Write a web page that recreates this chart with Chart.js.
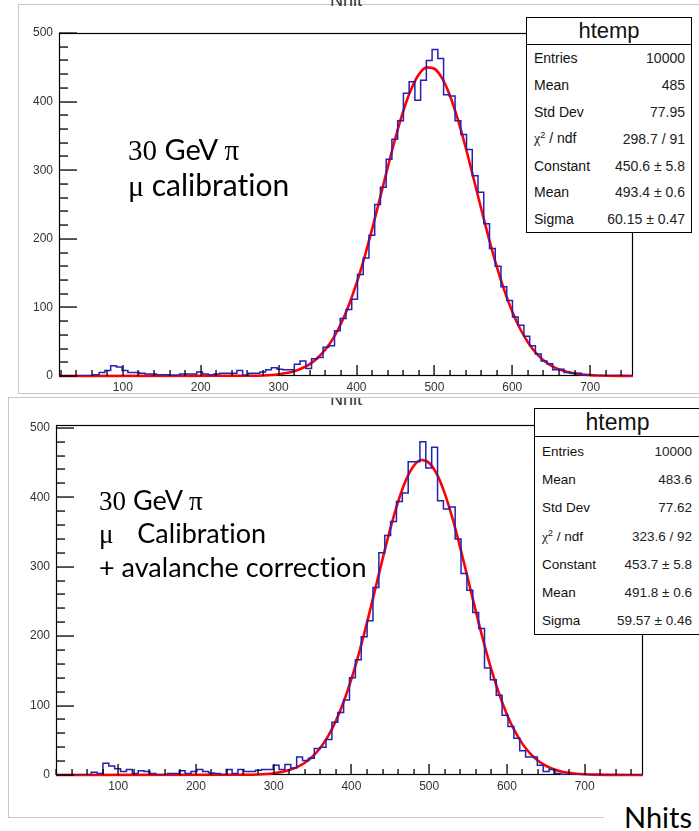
<!DOCTYPE html>
<html>
<head>
<meta charset="utf-8">
<script src="https://cdn.jsdelivr.net/npm/chart.js@4.4.0/dist/chart.umd.min.js"></script>
<style>
  body { margin:0; width:699px; height:831px; position:relative; overflow:hidden; background:#fff;
         font-family:'Liberation Sans', Arial, sans-serif; }
  .panel { position:absolute; border:1px solid #c8c8c8; background:#fff; overflow:hidden; box-sizing:border-box; }
  canvas { position:absolute; left:0; }
  .note { position:absolute; font-family:Lato, sans-serif; color:#000; white-space:pre; line-height:1;
          font-variant-ligatures:none; font-feature-settings:"liga" 0; }
  .sym { font-family:'Liberation Serif', 'DejaVu Serif', serif; }
  .title { position:absolute; font-size:18px; line-height:1; color:#333; }
  .stats { position:absolute; border:1px solid #000; background:#fff; box-sizing:border-box; color:#111; }
  .stats .head { text-align:center; border-bottom:1px solid #000; box-sizing:border-box; }
  .stats .row { display:flex; justify-content:space-between; align-items:center; white-space:nowrap; }
  .stats .row span:last-child { color:#222; }
  .stats sup { font-size:65%; vertical-align:5px; }
  .stats .chi { font-family:'Liberation Serif', serif; }
</style>
</head>
<body>
<div class="panel" style="left:18px;top:4px;width:720px;height:390px"></div>
<div class="title" style="left:330px;top:-9px">Nhit</div>
<canvas id="topChart" width="699" height="396" style="top:0"></canvas>
<div class="note" style="left:128px;top:134px;font-size:29px"><span class="sym">30</span> GeV <span class="sym">π</span></div>
<div class="note" style="left:128px;top:169px;font-size:30px"><span class="sym">μ</span> calibration</div>
<div class="stats" id="statsTop" style="left:526px;top:17px;width:166px;height:216px"></div>

<div class="panel" id="p2" style="left:8px;top:397px;width:720px;height:421px">
  <div class="title" style="left:321px;top:-8px">Nhit</div>
</div>
<canvas id="botChart" width="699" height="400" style="top:397px"></canvas>
<div class="note" style="left:99px;top:486px;font-size:27px"><span class="sym">30</span> GeV <span class="sym">π</span></div>
<div class="note" style="left:99px;top:519px;font-size:27px"><span class="sym">μ</span><span style="margin-left:10px"> </span> Calibration</div>
<div class="note" style="left:99px;top:553px;font-size:27px">+ avalanche correction</div>
<div class="stats" id="statsBot" style="left:534px;top:408px;width:167px;height:227px"></div>

<div style="position:absolute;left:604px;top:800px;width:95px;height:31px;background:#fff"></div>
<div class="note" style="left:624px;top:802px;font-size:29px">Nhits</div>

<script>
// histogram contents, 100 bins each
const countsTop = [
  0, 0, 0, 0, 0, 0, 2, 5, 8, 15,
  13, 8, 5, 5, 4, 3, 3, 2, 2, 1,
  1, 3, 3, 3, 6, 3, 2, 3, 4, 4,
  4, 8, 1, 4, 4, 6, 9, 12, 10, 9,
  9, 17, 22, 11, 25, 27, 42, 44, 66, 84,
  97, 112, 148, 172, 205, 250, 275, 316, 345, 372,
  412, 429, 402, 431, 460, 476, 463, 410, 408, 372,
  352, 330, 292, 268, 222, 186, 160, 130, 110, 86,
  74, 58, 44, 32, 22, 18, 9, 10, 5, 4,
  4, 1, 0, 0, 0, 0, 0, 0, 0, 0
];
const countsBot = [
  0, 0, 0, 0, 0, 0, 4, 2, 17, 13,
  9, 5, 8, 2, 6, 5, 2, 0, 0, 2,
  2, 6, 2, 5, 8, 5, 3, 2, 0, 8,
  2, 8, 5, 5, 7, 8, 8, 14, 8, 15,
  10, 26, 21, 24, 38, 40, 51, 76, 90, 108,
  140, 166, 199, 222, 270, 320, 345, 365, 394, 406,
  451, 451, 480, 442, 472, 395, 383, 386, 340, 290,
  266, 234, 211, 154, 137, 115, 86, 70, 53, 35,
  26, 26, 14, 5, 8, 2, 1, 0, 0, 0,
  0, 0, 0, 0, 0, 0, 0, 0, 0, 0
];
const rangeTop = [18, 755];
const rangeBot = [20, 775];

// gaussian fit curves, sampled from the red lines
const fitX = [270, 280, 290, 300, 310, 320, 330, 340, 350, 360, 370, 380, 390, 400, 410,
  420, 430, 440, 450, 460, 470, 480, 490, 500, 510, 520, 530, 540, 550, 560,
  570, 580, 590, 600, 610, 620, 630, 640, 650, 660, 670, 680, 690, 700, 710];
const fitTop = [0.46, 0.83, 1.48, 2.57, 4.31, 7.07, 11.25, 17.43, 26.28, 38.54, 54.94, 76.21, 102.8, 134.9, 172.3,
  214.0, 258.5, 303.8, 347.3, 386.2, 417.7, 439.6, 449.9, 447.9, 433.8, 408.6, 374.4, 333.8, 289.4, 244.1,
  200.3, 159.8, 124.1, 93.7, 68.9, 49.2, 34.2, 23.1, 15.2, 9.7, 6.05, 3.66, 2.16, 1.23, 0.69];
const fitBot = [0.44, 0.82, 1.46, 2.54, 4.31, 7.09, 11.35, 17.65, 26.7, 39.25, 56.1, 77.96, 105.4, 138.4, 176.7,
  219.4, 264.9, 310.9, 354.7, 393.4, 424.3, 444.9, 453.5, 449.4, 433.0, 405.6, 369.4, 327.1, 281.5, 235.6,
  191.7, 151.6, 116.6, 87.2, 63.4, 44.8, 30.8, 20.5, 13.3, 8.4, 5.17, 3.09, 1.79, 1.01, 0.55];

const xTickVals = [100, 200, 300, 400, 500, 600, 700];
const yTickVals = [0, 100, 200, 300, 400, 500];
const minorStep = 20;

const statLabels = ['Entries', 'Mean', 'Std Dev', '<span class="chi">χ</span><sup>2</sup> / ndf', 'Constant', 'Mean', 'Sigma'];
const statTop = ['10000', '485', '77.95', '298.7 / 91', '450.6 ± 5.8', '493.4 ± 0.6', '60.15 ± 0.47'];
const statBot = ['10000', '483.6', '77.62', '323.6 / 92', '453.7 ± 5.8', '491.8 ± 0.6', '59.57 ± 0.46'];

function histPoints(counts, range) {
  const w = (range[1] - range[0]) / counts.length;
  const pts = counts.map((c, i) => ({ x: range[0] + i * w, y: c }));
  pts.push({ x: range[1], y: counts[counts.length - 1] });
  return pts;
}

function fitPoints(fitY, range) {
  const pts = [{ x: range[0], y: 0 }];
  fitX.forEach((x, i) => pts.push({ x: x, y: fitY[i] }));
  pts.push({ x: range[1], y: 0 });
  return pts;
}

// ROOT style frame + inward ticks; one plugin per chart so the axis limits are known here
function makeFrame(range, yMax) {
  const yMinor = [], xMinor = [];
  for (let v = 0; v <= yMax; v += minorStep) yMinor.push(v);
  for (let v = Math.ceil(range[0] / minorStep) * minorStep; v <= range[1]; v += minorStep) xMinor.push(v);
  return {
    id: 'rootFrame',
    beforeDatasetsDraw(chart) {
      const { ctx, chartArea: a } = chart;
      ctx.save();
      ctx.strokeStyle = '#000';
      ctx.lineWidth = 1.2;
      ctx.strokeRect(a.left + 0.5, a.top + 0.5, a.right - a.left - 1, a.bottom - a.top - 1);
      ctx.restore();
    },
    afterDraw(chart) {
      const { ctx, chartArea: a } = chart;
      const xs = chart.scales.x, ys = chart.scales.y;
      const ypx = v => {
        const p = ys.getPixelForValue(v);
        return isFinite(p) ? p : a.bottom - (v / yMax) * (a.bottom - a.top);
      };
      const xpx = v => {
        const p = xs.getPixelForValue(v);
        return isFinite(p) ? p : a.left + (v - range[0]) / (range[1] - range[0]) * (a.right - a.left);
      };
      ctx.save();
      ctx.globalCompositeOperation = 'source-over';
      ctx.globalAlpha = 1;
      ctx.fillStyle = '#000';
      yMinor.forEach(v => {
        const len = v % 100 === 0 ? 18 : 9;
        ctx.fillRect(a.left, Math.round(ypx(v)) - 0.6, len, 1.3);
      });
      xMinor.forEach(v => {
        const len = v % 100 === 0 ? 11 : 6;
        ctx.fillRect(Math.round(xpx(v)) - 0.6, a.bottom - len, 1.3, len);
      });
      ctx.restore();
    }
  };
}

function drawHisto(id, counts, range, fitY, yMax, pad) {
  const tickFont = { family: "'Liberation Sans', Arial, sans-serif", size: 12 };
  return new Chart(document.getElementById(id), {
    type: 'line',
    data: {
      datasets: [
        {
          data: histPoints(counts, range),
          stepped: true,
          borderColor: '#2222b4',
          borderWidth: 1.5,
          pointRadius: 0,
          fill: false
        },
        {
          data: fitPoints(fitY, range),
          borderColor: '#ff0000',
          borderWidth: 2.6,
          pointRadius: 0,
          cubicInterpolationMode: 'monotone',
          fill: false,
          clip: 4
        }
      ]
    },
    options: {
      responsive: false,
      animation: false,
      devicePixelRatio: 1,
      layout: { padding: { left: 0, top: pad.top, right: pad.right, bottom: 0 } },
      plugins: { legend: { display: false }, tooltip: { enabled: false } },
      scales: {
        x: {
          type: 'linear',
          min: range[0],
          max: range[1],
          grid: { display: false, drawTicks: false },
          border: { display: false },
          afterBuildTicks: s => { s.ticks = xTickVals.map(v => ({ value: v })); },
          afterFit: s => { s.height = pad.xh; },
          ticks: { padding: 4, font: tickFont, color: '#333', maxRotation: 0, autoSkip: false, callback: v => String(v) }
        },
        y: {
          type: 'linear',
          min: 0,
          max: yMax,
          grid: { display: false, drawTicks: false },
          border: { display: false },
          afterBuildTicks: s => { s.ticks = yTickVals.map(v => ({ value: v })); },
          afterFit: s => { s.width = pad.left; },
          ticks: { padding: 6, font: tickFont, color: '#333', autoSkip: false, callback: v => String(v) }
        }
      }
    },
    plugins: [makeFrame(range, yMax)]
  });
}

function fillStats(id, values, headH, rowH, fs, headFs, padL, padR) {
  const box = document.getElementById(id);
  let html = `<div class="head" style="height:${headH}px;line-height:${headH - 1}px;font-size:${headFs}px">htemp</div>`;
  statLabels.forEach((lab, i) => {
    html += `<div class="row" style="height:${rowH}px;font-size:${fs}px;padding:0 ${padR}px 0 ${padL}px">` +
            `<span>${lab}</span><span>${values[i]}</span></div>`;
  });
  box.innerHTML = html;
}

drawHisto('topChart', countsTop, rangeTop, fitTop, 500, { top: 33, right: 66, left: 59, xh: 20 });
drawHisto('botChart', countsBot, rangeBot, fitBot, 504, { top: 28, right: 56, left: 56, xh: 22 });

fillStats('statsTop', statTop, 27, 26.8, 14, 22, 7, 6);
fillStats('statsBot', statBot, 28, 28.3, 13.5, 23, 7, 8);
</script>
</body>
</html>
